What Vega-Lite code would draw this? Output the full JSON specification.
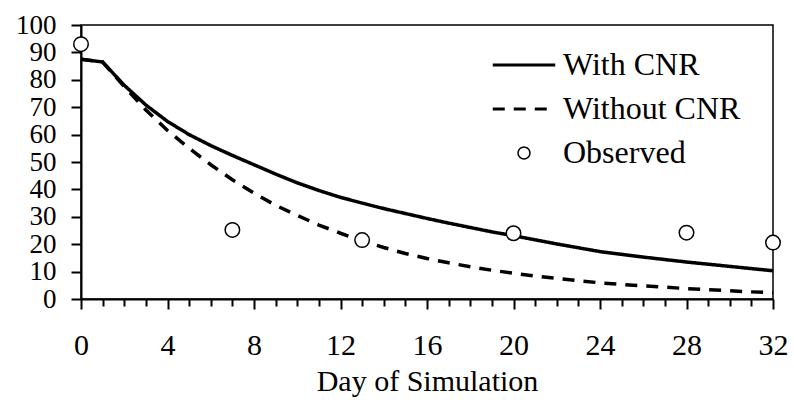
{
  "$schema": "https://vega.github.io/schema/vega-lite/v6.json",
  "autosize": {"type": "none"},
  "width": 692,
  "height": 274,
  "padding": {"left": 81, "top": 25, "right": 21, "bottom": 104},
  "background": "white",
  "config": {
    "view": {"stroke": "black", "strokeWidth": 1.5},
    "font": "Liberation Serif, Times New Roman, serif",
    "axis": {
      "domainColor": "black", "domainWidth": 2, "tickColor": "black", "tickWidth": 2,
      "labelColor": "black", "labelFont": "Liberation Serif, Times New Roman, serif", "labelFontSize": 28,
      "titleColor": "black", "titleFont": "Liberation Serif, Times New Roman, serif", "titleFontSize": 30, "titleFontWeight": "normal",
      "grid": false
    },
    "legend": {"labelFont": "Liberation Serif, Times New Roman, serif"}
  },
  "datasets": {
    "model": [
      {"day": 0, "value": 87.5, "series": "With CNR"},
      {"day": 1, "value": 86.5, "series": "With CNR"},
      {"day": 2, "value": 78, "series": "With CNR"},
      {"day": 3, "value": 70.8, "series": "With CNR"},
      {"day": 4, "value": 64.8, "series": "With CNR"},
      {"day": 5, "value": 60, "series": "With CNR"},
      {"day": 6, "value": 56, "series": "With CNR"},
      {"day": 7, "value": 52.4, "series": "With CNR"},
      {"day": 8, "value": 49, "series": "With CNR"},
      {"day": 9, "value": 45.6, "series": "With CNR"},
      {"day": 10, "value": 42.4, "series": "With CNR"},
      {"day": 11, "value": 39.6, "series": "With CNR"},
      {"day": 12, "value": 37.1, "series": "With CNR"},
      {"day": 13, "value": 35, "series": "With CNR"},
      {"day": 14, "value": 33, "series": "With CNR"},
      {"day": 15, "value": 31.2, "series": "With CNR"},
      {"day": 16, "value": 29.4, "series": "With CNR"},
      {"day": 17, "value": 27.7, "series": "With CNR"},
      {"day": 18, "value": 26.1, "series": "With CNR"},
      {"day": 19, "value": 24.5, "series": "With CNR"},
      {"day": 20, "value": 23.1, "series": "With CNR"},
      {"day": 21, "value": 21.6, "series": "With CNR"},
      {"day": 22, "value": 20.1, "series": "With CNR"},
      {"day": 23, "value": 18.7, "series": "With CNR"},
      {"day": 24, "value": 17.3, "series": "With CNR"},
      {"day": 25, "value": 16.3, "series": "With CNR"},
      {"day": 26, "value": 15.3, "series": "With CNR"},
      {"day": 27, "value": 14.4, "series": "With CNR"},
      {"day": 28, "value": 13.5, "series": "With CNR"},
      {"day": 29, "value": 12.7, "series": "With CNR"},
      {"day": 30, "value": 11.9, "series": "With CNR"},
      {"day": 31, "value": 11.1, "series": "With CNR"},
      {"day": 32, "value": 10.3, "series": "With CNR"},
      {"day": 0, "value": 87.5, "series": "Without CNR"},
      {"day": 1, "value": 86.5, "series": "Without CNR"},
      {"day": 2, "value": 77.5, "series": "Without CNR"},
      {"day": 3, "value": 69, "series": "Without CNR"},
      {"day": 4, "value": 61.5, "series": "Without CNR"},
      {"day": 5, "value": 55, "series": "Without CNR"},
      {"day": 6, "value": 49, "series": "Without CNR"},
      {"day": 7, "value": 43.5, "series": "Without CNR"},
      {"day": 8, "value": 38.6, "series": "Without CNR"},
      {"day": 9, "value": 34.2, "series": "Without CNR"},
      {"day": 10, "value": 30.5, "series": "Without CNR"},
      {"day": 11, "value": 27, "series": "Without CNR"},
      {"day": 12, "value": 24, "series": "Without CNR"},
      {"day": 13, "value": 21.2, "series": "Without CNR"},
      {"day": 14, "value": 18.8, "series": "Without CNR"},
      {"day": 15, "value": 16.6, "series": "Without CNR"},
      {"day": 16, "value": 14.8, "series": "Without CNR"},
      {"day": 17, "value": 13.2, "series": "Without CNR"},
      {"day": 18, "value": 11.8, "series": "Without CNR"},
      {"day": 19, "value": 10.5, "series": "Without CNR"},
      {"day": 20, "value": 9.4, "series": "Without CNR"},
      {"day": 21, "value": 8.4, "series": "Without CNR"},
      {"day": 22, "value": 7.5, "series": "Without CNR"},
      {"day": 23, "value": 6.7, "series": "Without CNR"},
      {"day": 24, "value": 5.9, "series": "Without CNR"},
      {"day": 25, "value": 5.3, "series": "Without CNR"},
      {"day": 26, "value": 4.8, "series": "Without CNR"},
      {"day": 27, "value": 4.3, "series": "Without CNR"},
      {"day": 28, "value": 3.8, "series": "Without CNR"},
      {"day": 29, "value": 3.4, "series": "Without CNR"},
      {"day": 30, "value": 3.0, "series": "Without CNR"},
      {"day": 31, "value": 2.6, "series": "Without CNR"},
      {"day": 32, "value": 2.3, "series": "Without CNR"}
    ],
    "observed": [
      {"day": 0, "value": 93, "series": "Observed"},
      {"day": 7, "value": 25.2, "series": "Observed"},
      {"day": 13, "value": 21.5, "series": "Observed"},
      {"day": 20, "value": 24, "series": "Observed"},
      {"day": 28, "value": 24.2, "series": "Observed"},
      {"day": 32, "value": 20.6, "series": "Observed"}
    ]
  },
  "encoding": {
    "x": {
      "field": "day", "type": "quantitative",
      "scale": {"domain": [0, 32], "nice": false, "zero": false},
      "axis": {
        "title": "Day of Simulation",
        "values": [0,1,2,3,4,5,6,7,8,9,10,11,12,13,14,15,16,17,18,19,20,21,22,23,24,25,26,27,28,29,30,31,32],
        "labelExpr": "datum.value % 4 === 0 ? datum.label : ''",
        "labelOverlap": false, "labelFlush": false, "labelBound": false,
        "labelFontSize": 30,
        "tickSize": {"condition": {"test": "datum.value % 4 === 0", "value": 10}, "value": 7},
        "labelPadding": 21, "titlePadding": 6
      }
    },
    "y": {
      "field": "value", "type": "quantitative",
      "scale": {"domain": [0, 100], "nice": false},
      "axis": {
        "title": null,
        "values": [0,10,20,30,40,50,60,70,80,90,100],
        "labelFontSize": 27,
        "tickSize": 10, "labelPadding": 15, "labelOverlap": false, "labelFlush": false, "labelBound": false
      }
    }
  },
  "layer": [
    {
      "data": {"name": "model"},
      "mark": {"type": "line", "color": "black", "strokeWidth": 3.5, "clip": true},
      "encoding": {
        "detail": {"field": "series"},
        "strokeDash": {
          "field": "series", "type": "nominal",
          "scale": {"domain": ["With CNR", "Without CNR", "Observed"], "range": [[1, 0], [12, 9], [1, 0]]},
          "legend": {
            "title": null, "orient": "none", "legendX": 427, "legendY": 24,
            "labelFont": "Liberation Serif, Times New Roman, serif", "labelFontSize": 32, "labelColor": "black",
            "labelLimit": 0,
            "labelOffset": 23, "rowPadding": 12, "padding": 0, "symbolStrokeColor": "black",
            "encode": {
              "symbols": {
                "update": {
                  "shape": {"signal": "datum.value === 'Observed' ? 'circle' : 'stroke'"},
                  "size": {"signal": "datum.value === 'Observed' ? 140 : 3900"},
                  "strokeWidth": {"signal": "datum.value === 'Observed' ? 1.5 : 3"},
                  "fill": {"value": "white"},
                  "stroke": {"value": "black"}
                }
              }
            }
          }
        }
      }
    },
    {
      "data": {"name": "observed"},
      "mark": {"type": "point", "shape": "circle", "filled": true, "fill": "white", "stroke": "black", "strokeWidth": 1.5, "size": 210, "opacity": 1, "clip": false}
    }
  ]
}
